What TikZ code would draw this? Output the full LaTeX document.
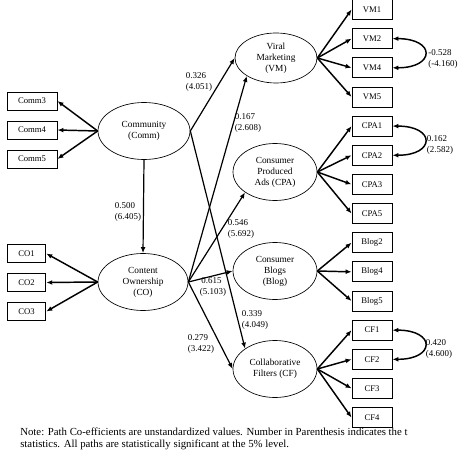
\documentclass[tikz,border=0pt]{standalone}
\usepackage{fontspec}
\setmainfont{Liberation Serif}
\usetikzlibrary{shapes.geometric,arrows.meta,positioning}

\begin{document}
\begin{tikzpicture}[
  x=0.75pt, y=-0.75pt,
  lat/.style={draw, ellipse, line width=0.5pt, inner sep=0pt, align=center,
              font=\fontsize{7}{8.2}\selectfont},
  obs/.style={draw, line width=0.6pt, minimum width=30pt, minimum height=15pt,
              inner sep=0pt, font=\fontsize{6.5}{7}\selectfont},
  ind/.style={-{Latex[length=4.5pt,width=3.6pt]}, line width=1.1pt},
  reg/.style={-{Latex[length=4.5pt,width=3.6pt]}, line width=0.9pt},
  cov/.style={{Latex[length=4.5pt,width=3.6pt]}-{Latex[length=4.5pt,width=3.6pt]},
              line width=1.1pt},
  est/.style={align=left, inner sep=0pt, font=\fontsize{6.7}{8}\selectfont}
]
\useasboundingbox[fill=white] (0,0) rectangle (474,474);

% latent constructs
\node[lat, minimum width=69pt, minimum height=42.75pt] (comm) at (144,131) {Community\\(Comm)};
\node[lat, minimum width=67.5pt, minimum height=42.75pt] (co) at (143,282) {Content\\Ownership\\(CO)};
\node[lat, minimum width=61.5pt, minimum height=37.5pt] (vm) at (276,58) {Viral\\Marketing\\(VM)};
\node[lat, minimum width=63pt, minimum height=42.75pt] (cpa) at (275,172) {Consumer\\Produced\\Ads (CPA)};
\node[lat, minimum width=63pt, minimum height=42.75pt] (blog) at (275,271) {Consumer\\Blogs\\(Blog)};
\node[lat, minimum width=63pt, minimum height=42.75pt] (cf) at (275,369) {Collaborative\\Filters (CF)};

% indicators
\foreach \n [count=\i from 0] in {Comm3,Comm4,Comm5}
  \node[obs, minimum width=37.5pt, minimum height=13.5pt] (\n) at (32, 101+29*\i) {\n};
\foreach \n [count=\i from 0] in {CO1,CO2,CO3}
  \node[obs, minimum width=29pt, minimum height=14pt] (\n) at (26.5, 253.5+29*\i) {\n};
\foreach \n [count=\i from 0] in {VM1,VM2,VM4,VM5,CPA1,CPA2,CPA3,CPA5,Blog2,Blog4,Blog5,CF1,CF2,CF3,CF4}
  \node[obs] (\n) at (372, 9.5+29.15*\i) {\n};

\foreach \n in {Comm3,Comm4,Comm5} \draw[ind] (comm.west) -- (\n.east);
\foreach \n in {CO1,CO2,CO3} \draw[ind] (co.west) -- (\n.east);
\foreach \n in {VM1,VM2,VM4,VM5} \draw[ind] (vm.east) -- (\n.west);
\foreach \n in {CPA1,CPA2,CPA3,CPA5} \draw[ind] (cpa.east) -- (\n.west);
\foreach \n in {Blog2,Blog4,Blog5} \draw[ind] (blog.east) -- (\n.west);
\foreach \n in {CF1,CF2,CF3,CF4} \draw[ind] (cf.east) -- (\n.west);

% structural paths
\draw[reg] (comm.south) -- (co.north);
\draw[reg] (comm.east) -- (vm.west);
\draw[reg] (comm.east) -- (cf.north west);
\draw[reg] (co.east) -- (vm.south west);
\draw[reg] (co.east) -- (cpa.south west);
\draw[reg] (co.east) -- (blog.west);
\draw[reg] (co.east) -- (cf.west);

% error covariances
\draw[cov] (VM2.east) to[out=0, in=0, looseness=3.8] (VM4.east);
\draw[cov] (CPA1.east) to[out=0, in=0, looseness=3.8] (CPA2.east);
\draw[cov] (CF1.east) to[out=0, in=0, looseness=3.8] (CF2.east);

% estimates
\node[est] (e500) at (128,212) {0.500\\(6.405)};
\node[est] (e326) at (199,82) {0.326\\(4.051)};
\node[est] (e167) at (248,123) {0.167\\(2.608)};
\node[est] (e546) at (241,229) {0.546\\(5.692)};
\node[est] (e615) at (213,287) {\,0.615\\(5.103)};
\node[est] (e339) at (255,320) {0.339\\(4.049)};
\node[est] (e279) at (201,344) {0.279\\(3.422)};
\node[est] (e528) at (443,59) {-0.528\\(-4.160)};
\node[est] (e162) at (440,145) {0.162\\(2.582)};
\node[est] (e420) at (439,349) {0.420\\(4.600)};

\node[anchor=north west, align=left, inner sep=0pt, font=\fontsize{8.1}{9}\selectfont] (note) at (20,428)
  {Note: Path Co-efficients are unstandardized values. Number in Parenthesis indicates the t\\
   statistics. All paths are statistically significant at the 5\% level.};
\end{tikzpicture}
\end{document}
